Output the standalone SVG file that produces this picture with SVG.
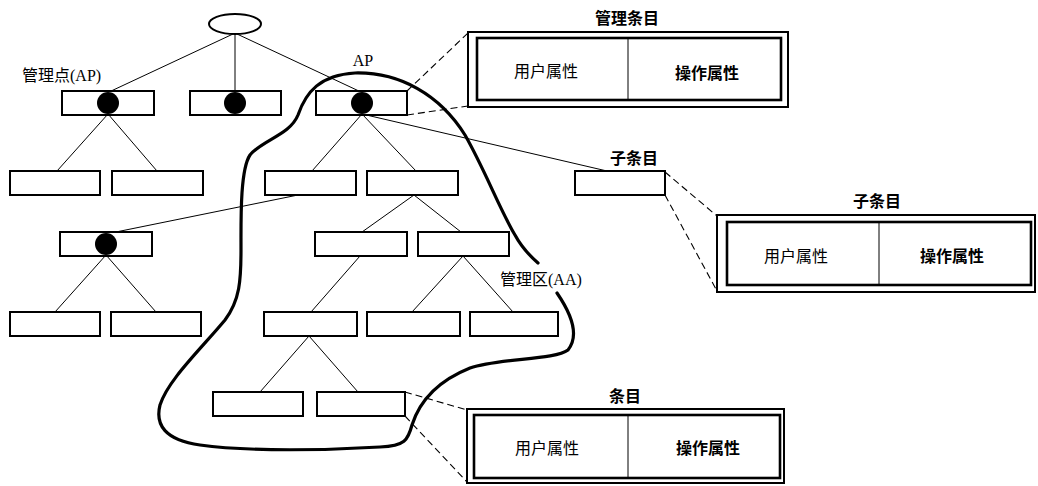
<svg xmlns="http://www.w3.org/2000/svg" width="1038" height="486" viewBox="0 0 1038 486">
<style>
.bx{fill:#fff;stroke:#000;stroke-width:2}
.dot{fill:#000}
.ln{stroke:#000;stroke-width:1;fill:none}
.ds{stroke:#000;stroke-width:1.1;fill:none;stroke-dasharray:7 4}
.ob{fill:#fff;stroke:#000;stroke-width:2}
.ib{fill:none;stroke:#000;stroke-width:2.6}
.dv{stroke:#000;stroke-width:1}
.t{font-family:"Liberation Serif","Noto Sans CJK SC",serif;font-size:16px;fill:#000}
.c{text-anchor:middle}
.b{font-weight:bold}
</style>
<rect width="1038" height="486" fill="#fff"/>
<g id="connectors">
<line class="ln" x1="233" y1="34" x2="109" y2="92"/>
<line class="ln" x1="235" y1="34" x2="235" y2="92"/>
<line class="ln" x1="237" y1="34" x2="361" y2="92"/>
<line class="ln" x1="108" y1="114" x2="57" y2="171"/>
<line class="ln" x1="108" y1="114" x2="157" y2="171"/>
<line class="ln" x1="362" y1="114" x2="312" y2="171"/>
<line class="ln" x1="362" y1="114" x2="416" y2="171"/>
<line class="ln" x1="362" y1="114" x2="607" y2="171"/>
<line class="ln" x1="298" y1="195" x2="106" y2="234"/>
<line class="ln" x1="414" y1="195" x2="362" y2="232"/>
<line class="ln" x1="414" y1="195" x2="461" y2="232"/>
<line class="ln" x1="106" y1="255" x2="55" y2="312"/>
<line class="ln" x1="106" y1="255" x2="156" y2="312"/>
<line class="ln" x1="360" y1="256" x2="311" y2="312"/>
<line class="ln" x1="463" y1="256" x2="412" y2="312"/>
<line class="ln" x1="463" y1="256" x2="513" y2="312"/>
<line class="ln" x1="309" y1="336" x2="260" y2="392"/>
<line class="ln" x1="309" y1="336" x2="358" y2="392"/>
<line class="ds" x1="407" y1="91" x2="468" y2="33"/>
<line class="ds" x1="407" y1="115" x2="468" y2="106"/>
<line class="ds" x1="665" y1="172" x2="717" y2="216"/>
<line class="ds" x1="665" y1="195" x2="717" y2="291"/>
<line class="ds" x1="405" y1="392" x2="467" y2="410"/>
<line class="ds" x1="405" y1="416" x2="467" y2="482"/>
</g>
<g id="root"><ellipse cx="235" cy="24" rx="26" ry="10" fill="#fff" stroke="#000" stroke-width="2"/></g>
<g id="ap1"><rect class="bx" x="62" y="91" width="92" height="24"/><circle class="dot" cx="108" cy="103" r="11"/></g>
<g id="ap2"><rect class="bx" x="190" y="91" width="91" height="24"/><circle class="dot" cx="235" cy="103" r="11"/></g>
<g id="ap3"><rect class="bx" x="316" y="91" width="91" height="24"/><circle class="dot" cx="362" cy="103" r="11"/></g>
<g id="r2a"><rect class="bx" x="10" y="171" width="90" height="24"/></g>
<g id="r2b"><rect class="bx" x="112" y="171" width="91" height="24"/></g>
<g id="r2c"><rect class="bx" x="265" y="171" width="91" height="24"/></g>
<g id="r2d"><rect class="bx" x="367" y="171" width="91" height="24"/></g>
<g id="ap4"><rect class="bx" x="60" y="232" width="92" height="24"/><circle class="dot" cx="106" cy="244" r="11"/></g>
<g id="r3b"><rect class="bx" x="315" y="232" width="92" height="24"/></g>
<g id="r3c"><rect class="bx" x="418" y="232" width="91" height="24"/></g>
<g id="r4a"><rect class="bx" x="10" y="312" width="90" height="24"/></g>
<g id="r4b"><rect class="bx" x="111" y="312" width="90" height="24"/></g>
<g id="r4c"><rect class="bx" x="264" y="312" width="93" height="24"/></g>
<g id="r4d"><rect class="bx" x="367" y="312" width="93" height="24"/></g>
<g id="r4e"><rect class="bx" x="470" y="312" width="88" height="24"/></g>
<g id="r5a"><rect class="bx" x="213" y="392" width="90" height="24"/></g>
<g id="r5b"><rect class="bx" x="317" y="392" width="88" height="24"/></g>
<g id="sub"><rect class="bx" x="575" y="171" width="90" height="24"/>
<text class="t c b" x="634" y="164" font-size="15">子条目</text></g>
<g id="aa">
<path d="M557,293 C570,312 580,335 568,350 C555,360 500,358 470,368 C440,380 420,400 412,425 C408,440 405,446 380,447 C330,450 250,452 200,445 C165,440 155,425 160,405 C168,380 200,350 225,320 C240,300 241,280 241,250 C241,220 240,170 250,155 C262,140 290,135 298,115 C306,92 320,75 355,73 C400,72 440,95 465,135 C485,170 500,210 515,235 C522,248 530,256 538,263" fill="none" stroke="#000" stroke-width="3.2" stroke-linecap="round"/>
<text class="t" x="500" y="285" font-size="14.5">管理区(AA)</text>
</g>
<g id="labels">
<text class="t" x="22" y="81" font-size="16.5">管理点(AP)</text>
<text class="t c" x="363" y="66" font-size="15">AP</text>
</g>
<g id="mgmt-entry">
<text class="t c b" x="627" y="24">管理条目</text>
<rect class="ob" x="468" y="32" width="320" height="75"/>
<rect class="ib" x="477" y="38" width="304" height="62"/>
<line class="dv" x1="628" y1="38" x2="628" y2="100"/>
<text class="t c" x="546" y="77">用户属性</text>
<text class="t c b" x="707" y="79">操作属性</text>
</g>
<g id="sub-entry">
<text class="t c b" x="877" y="207">子条目</text>
<rect class="ob" x="717" y="215" width="318" height="77"/>
<rect class="ib" x="727" y="222" width="304" height="63"/>
<line class="dv" x1="879" y1="222" x2="879" y2="285"/>
<text class="t c" x="796" y="262">用户属性</text>
<text class="t c b" x="952" y="262">操作属性</text>
</g>
<g id="entry">
<text class="t c b" x="625" y="402">条目</text>
<rect class="ob" x="467" y="409" width="317" height="74"/>
<rect class="ib" x="474" y="415" width="306" height="63"/>
<line class="dv" x1="628" y1="415" x2="628" y2="478"/>
<text class="t c" x="547" y="454">用户属性</text>
<text class="t c b" x="708" y="454">操作属性</text>
</g>
</svg>
